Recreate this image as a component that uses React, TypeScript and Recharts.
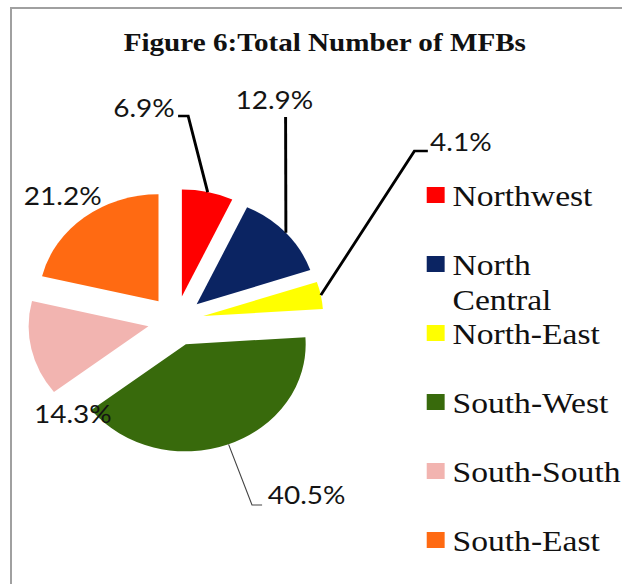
import { PieChart, Pie, Cell, Legend, Sector } from "recharts";

// ---------------------------------------------------------------------------
// Data
// ---------------------------------------------------------------------------

const regions = ["Northwest", "North Central", "North-East", "South-West", "South-South", "South-East"];
const shares = [6.9, 12.9, 4.1, 40.5, 14.3, 21.2];
const colors = ["#ff0000", "#0b2462", "#ffff00", "#386a0c", "#f2b4b0", "#ff6a12"];

const data = regions.map((name, i) => ({ name, value: shares[i] }));

// ---------------------------------------------------------------------------
// Layout (the source picture is stretched horizontally, so we draw in
// unstretched units and scale the whole chart in x)
// ---------------------------------------------------------------------------

const STRETCH = 1.12;
const WIDTH = 555;
const HEIGHT = 584;
const CX = 157;
const CY = 321;
const R = 107;
const EXPLODE = 25;
const RAD = Math.PI / 180;

type LabelLayout = {
  line: [number, number][];
  text: [number, number];
  anchor: "start" | "middle" | "end";
  thick?: boolean;
};

// offsets from the pie centre: leader line bends + text anchor
const LABEL_LAYOUT: LabelLayout[] = [
  { line: [[11, -205], [2, -205]], text: [-1, -213], anchor: "end", thick: true },
  { line: [[98, -204]], text: [88, -221], anchor: "middle", thick: true },
  { line: [[213, -170], [225, -170]], text: [227, -179], anchor: "start", thick: true },
  { line: [[68, 184], [77, 184]], text: [82, 174], anchor: "start" },
  { line: [], text: [-92, 93], anchor: "middle" },
  { line: [], text: [-101, -125], anchor: "middle" },
];

const renderSector = (props: any) => {
  const a = -props.midAngle * RAD;
  return (
    <Sector
      {...props}
      cx={props.cx + EXPLODE * Math.cos(a)}
      cy={props.cy + EXPLODE * Math.sin(a)}
      stroke="none"
    />
  );
};

const renderLabel = (props: any) => {
  const { cx, cy, midAngle, outerRadius, index, value } = props;
  const layout = LABEL_LAYOUT[index];
  const a = -midAngle * RAD;
  const edge: [number, number] = [
    cx + (outerRadius + EXPLODE) * Math.cos(a),
    cy + (outerRadius + EXPLODE) * Math.sin(a),
  ];
  const pts = [edge, ...layout.line.map(([dx, dy]) => [cx + dx, cy + dy])];
  return (
    <g key={`label-${index}`}>
      {layout.line.length > 0 && (
        <polyline
          points={pts.map((p) => p.join(",")).join(" ")}
          fill="none"
          stroke={layout.thick ? "#000" : "#444"}
          strokeWidth={layout.thick ? 2.6 : 1}
        />
      )}
      <text
        x={cx + layout.text[0]}
        y={cy + layout.text[1]}
        textAnchor={layout.anchor}
        dominantBaseline="central"
        fontFamily="Lato, sans-serif"
        fontSize={25}
        fill="#141414"
      >
        {`${Number(value).toFixed(1)}%`}
      </text>
    </g>
  );
};

// keep the legend in data order (Recharts sorts it by name otherwise)
const renderLegend = (props: any) => {
  const payload = [...(props.payload ?? [])].sort(
    (a: any, b: any) => regions.indexOf(String(a.value)) - regions.indexOf(String(b.value))
  );
  return (
    <div style={{ fontFamily: '"Liberation Serif", "Times New Roman", serif', color: "#111" }}>
      {payload.map((entry: any) => {
        const name = String(entry.value);
        return (
          <div key={name} style={{ position: "relative", height: 69 }}>
            <span
              style={{
                position: "absolute",
                left: 0,
                top: 9,
                width: 16,
                height: 16,
                background: entry.color,
              }}
            />
            <div
              style={{
                position: "absolute",
                left: 23,
                top: 0,
                width: 150,
                fontSize: 30,
                lineHeight: "35px",
                whiteSpace: name.includes(" ") ? "normal" : "nowrap",
              }}
            >
              {name}
            </div>
          </div>
        );
      })}
    </div>
  );
};

export default function App() {
  return (
    <div
      style={{
        position: "absolute",
        left: 0,
        top: 0,
        width: 622,
        height: 584,
        overflow: "hidden",
        background: "#fff",
      }}
    >
      <div
        style={{
          position: "absolute",
          left: 10,
          top: 7,
          width: 700,
          height: 700,
          borderTop: "2px solid #a0a0a0",
          borderLeft: "2px solid #a0a0a0",
        }}
      />
      <div
        style={{
          position: "absolute",
          left: 0,
          top: 0,
          width: WIDTH,
          height: HEIGHT,
          transform: `scaleX(${STRETCH})`,
          transformOrigin: "0 0",
        }}
      >
        <div
          style={{
            position: "absolute",
            left: 0,
            top: 30,
            width: 580,
            textAlign: "center",
            fontFamily: '"Liberation Serif", "Times New Roman", serif',
            fontWeight: "bold",
            fontSize: 26,
            lineHeight: "26px",
            color: "#111",
            zIndex: 2,
          }}
        >
          Figure 6:Total Number of MFBs
        </div>
        <PieChart width={WIDTH} height={HEIGHT} margin={{ top: 0, right: 0, bottom: 0, left: 0 }}>
          <Pie
            data={data}
            dataKey="value"
            nameKey="name"
            cx={CX}
            cy={CY}
            outerRadius={R}
            startAngle={90}
            endAngle={-270}
            stroke="none"
            shape={renderSector}
            label={renderLabel}
            labelLine={false}
            isAnimationActive={false}
          >
            {data.map((d, i) => (
              <Cell key={d.name} fill={colors[i]} />
            ))}
          </Pie>
          <Legend
            layout="vertical"
            align="right"
            verticalAlign="top"
            content={renderLegend}
            wrapperStyle={{ left: 381, top: 178, width: 200 }}
          />
        </PieChart>
      </div>
    </div>
  );
}
